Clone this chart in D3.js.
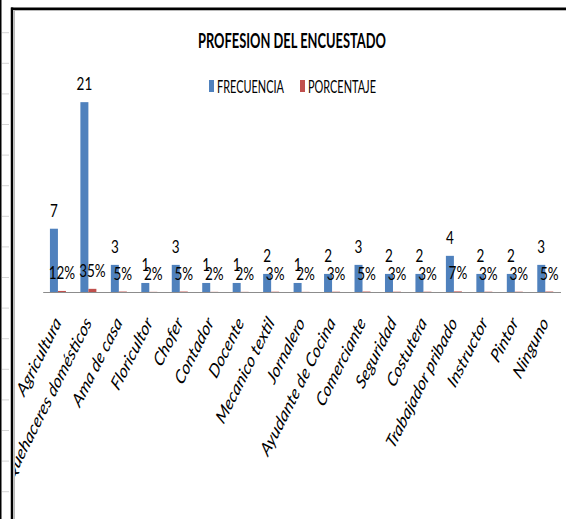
<!DOCTYPE html>
<html lang="es">
<head>
  <meta charset="UTF-8"/>
  <title>Profesion del encuestado</title>
  <script src="https://cdn.jsdelivr.net/npm/d3@7"></script>
  <style>
    body { margin: 0; background: #fff; }
    svg { display: block; font-family: Lato, 'Open Sans', sans-serif; }
  </style>
</head>
<body>
<svg width="566" height="519"></svg>
<script>
const profesiones = ['Agricultura', 'Quehaceres domésticos', 'Ama de casa', 'Floricultor', 'Chofer',
  'Contador', 'Docente', 'Mecanico textil', 'Jornalero', 'Ayudante de Cocina', 'Comerciante',
  'Seguridad', 'Costutera', 'Trabajador pribado', 'Instructor', 'Pintor', 'Ninguno'];
const frecuencia = [7, 21, 3, 1, 3, 1, 1, 2, 1, 2, 3, 2, 2, 4, 2, 2, 3];
const porcentaje = [0.117, 0.35, 0.05, 0.017, 0.05, 0.017, 0.017, 0.033, 0.017, 0.033, 0.05,
  0.033, 0.033, 0.067, 0.033, 0.033, 0.05];
const series = ['FRECUENCIA', 'PORCENTAJE'];
const colores = ['#4f81bd', '#c0504d'];

const svg = d3.select('svg');
const width = 566, height = 519;
const base = 292;

// bordes de la hoja de calculo
svg.append('rect').attr('x', 0).attr('y', 0).attr('width', 1.5).attr('height', height).attr('fill', '#000');
svg.append('g').selectAll('line')
  .data(d3.range(16))
  .enter().append('line')
  .attr('x1', 2).attr('x2', 9)
  .attr('y1', (i) => 32.7 + i * 30.6).attr('y2', (i) => 32.7 + i * 30.6)
  .attr('stroke', '#d4d4d4');
svg.append('line').attr('x1', 12).attr('x2', 12).attr('y1', 7.5).attr('y2', height)
  .attr('stroke', '#000').attr('stroke-width', 2.5);
svg.append('line').attr('x1', 11).attr('x2', width).attr('y1', 8.7).attr('y2', 8.7)
  .attr('stroke', '#000').attr('stroke-width', 2.5);
svg.append('line').attr('x1', 14.5).attr('x2', 14.5).attr('y1', 10.5).attr('y2', height)
  .attr('stroke', '#b8b8b8');
svg.append('line').attr('x1', 14).attr('x2', width).attr('y1', 10.5).attr('y2', 10.5)
  .attr('stroke', '#b8b8b8');

svg.append('clipPath').attr('id', 'area')
  .append('rect').attr('x', 15).attr('y', 11).attr('width', width - 15).attr('height', height - 11);

const chart = svg.append('g').attr('clip-path', 'url(#area)');

const x0 = d3.scaleBand().domain(profesiones).range([42.7, 560.5]);
const x1 = d3.scaleBand().domain(series)
  .range([x0.bandwidth() / 2 - 8, x0.bandwidth() / 2 + 8]);
const y = d3.scaleLinear().domain([0, 25]).range([base, 66]);
const fmt = [d3.format('d'), d3.format('.0%')];

const filas = profesiones.map((p, i) => ({
  p: p,
  vals: [frecuencia[i], porcentaje[i]].map((v, k) => ({ s: series[k], k: k, v: v }))
}));

const grupos = chart.selectAll('.grupo')
  .data(filas)
  .enter().append('g')
  .attr('class', 'grupo')
  .attr('transform', (d) => `translate(${x0(d.p)},0)`);

grupos.selectAll('rect')
  .data((d) => d.vals)
  .enter().append('rect')
  .attr('x', (d) => x1(d.s))
  .attr('y', (d) => y(d.v))
  .attr('width', x1.bandwidth())
  .attr('height', (d) => base - y(d.v))
  .attr('fill', (d) => colores[d.k]);

grupos.selectAll('text')
  .data((d) => d.vals)
  .enter().append('text')
  .attr('transform', (d) => `translate(${x1(d.s) + x1.bandwidth() / 2},${y(d.v) - 12}) scale(0.75,1)`)
  .attr('text-anchor', 'middle')
  .attr('font-size', 18)
  .attr('fill', '#000')
  .text((d) => fmt[d.k](d.v));

// eje de categorias
const axis = chart.append('g')
  .attr('transform', `translate(0,${base})`)
  .call(d3.axisBottom(x0).tickSize(0).tickSizeOuter(0));
axis.attr('font-family', null).attr('font-size', 19.5).attr('color', '#000');
axis.select('.domain').attr('stroke', '#8c8c8c');
axis.selectAll('text')
  .attr('x', null).attr('y', null).attr('dy', null)
  .attr('text-anchor', 'end')
  .attr('font-style', 'italic')
  .attr('transform', 'translate(4,31) scale(0.75,1) rotate(-56)');

// titulo
svg.append('text')
  .attr('x', 198).attr('y', 48)
  .attr('font-size', 21).attr('font-weight', 'bold')
  .attr('textLength', 188).attr('lengthAdjust', 'spacingAndGlyphs')
  .text('PROFESION DEL ENCUESTADO');

// leyenda
const leyX = [209, 300];
const leyLen = [67, 68];
const leyenda = svg.append('g').selectAll('g')
  .data(series)
  .enter().append('g');
leyenda.append('rect')
  .attr('x', (d, i) => leyX[i]).attr('y', 80)
  .attr('width', 5).attr('height', 12)
  .attr('fill', (d, i) => colores[i]);
leyenda.append('text')
  .attr('x', (d, i) => leyX[i] + 8).attr('y', 93)
  .attr('font-size', 17)
  .attr('textLength', (d, i) => leyLen[i]).attr('lengthAdjust', 'spacingAndGlyphs')
  .attr('fill', '#000')
  .text((d) => d);
</script>
</body>
</html>
